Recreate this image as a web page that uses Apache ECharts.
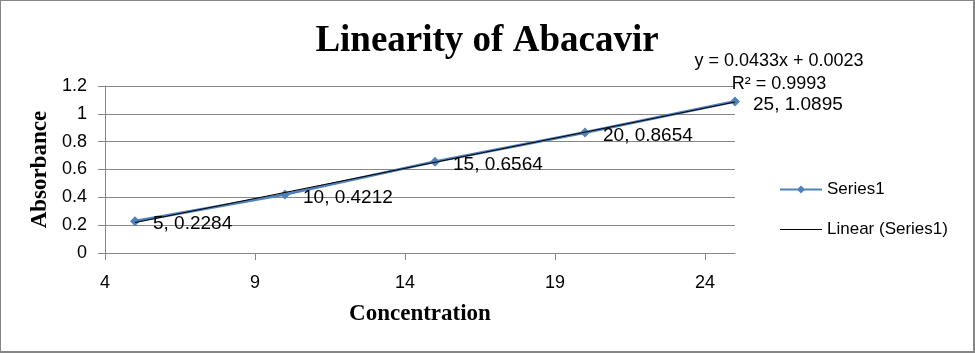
<!DOCTYPE html>
<html><head><meta charset="utf-8">
<script src="https://cdn.jsdelivr.net/npm/echarts@6/dist/echarts.min.js"></script>
<style>
html,body{margin:0;padding:0;background:#fff;}
#c{width:975px;height:353px;box-sizing:border-box;border:1px solid #868686;border-right-width:2px;border-bottom-width:2px;}
</style></head>
<body><div id="c"></div>
<script>
const concentrations = [5, 10, 15, 20, 25];
const absorbances = [0.2284, 0.4212, 0.6564, 0.8654, 1.0895];
const trendPoints = [[5, 0.2188], [25, 1.0848]];
const xTickLabels = [4, 9, 14, 19, 24];
const yTickLabels = [0, 0.2, 0.4, 0.6, 0.8, 1, 1.2];
const titleText = 'Linearity of Abacavir';
const equationText = 'y = 0.0433x + 0.0023';
const r2Text = 'R\u00B2 = 0.9993';

const chart = echarts.init(document.getElementById('c'), null, {renderer: 'canvas'});
const tickFont = {fontFamily: 'Liberation Sans', fontSize: 18, color: '#000'};
const seriesData = concentrations.map((c, i) => [c, absorbances[i]]);
chart.setOption({
  animation: false,
  title: {
    text: titleText, left: 'center', top: 17,
    textStyle: {fontFamily: 'Liberation Serif', fontWeight: 'bold', fontSize: 37, color: '#000'}
  },
  grid: {left: 104, right: 238, top: 85, bottom: 98, containLabel: false},
  legend: {
    orient: 'vertical', left: 773, top: 175, itemGap: 23, itemWidth: 42, itemHeight: 10,
    textStyle: {fontFamily: 'Liberation Sans', fontSize: 17, color: '#000'},
    data: [
      {name: 'Series1'},
      {name: 'Linear (Series1)', icon: 'path://M0,0 L42,0 L42,1 L0,1 Z', itemStyle: {color: '#000'}}
    ]
  },
  xAxis: {
    type: 'value', min: 4, max: 25,
    name: 'Concentration', nameLocation: 'middle', nameGap: 50,
    nameTextStyle: {fontFamily: 'Liberation Serif', fontWeight: 'bold', fontSize: 23, color: '#000'},
    axisLine: {lineStyle: {color: '#868686'}},
    axisTick: {show: true, length: 7, customValues: xTickLabels, lineStyle: {color: '#868686'}},
    axisLabel: Object.assign({customValues: xTickLabels, margin: 21}, tickFont),
    splitLine: {show: false}
  },
  yAxis: {
    type: 'value', min: 0, max: 1.2, interval: 0.2,
    name: 'Absorbance', nameLocation: 'middle', nameGap: 52, nameRotate: 90,
    nameTextStyle: {fontFamily: 'Liberation Serif', fontWeight: 'bold', fontSize: 23, color: '#000'},
    axisLine: {show: true, lineStyle: {color: '#868686'}},
    axisTick: {show: true, length: 7, lineStyle: {color: '#868686'}},
    axisLabel: Object.assign({margin: 18, formatter: v => String(+v.toFixed(1))}, tickFont),
    splitLine: {lineStyle: {color: '#868686', width: 1}}
  },
  series: [
    {
      name: 'Series1', type: 'line', data: seriesData,
      symbol: 'diamond', symbolSize: 10,
      lineStyle: {color: '#4f81bd', width: 3},
      itemStyle: {color: '#4f81bd'},
      label: {
        show: true, position: 'right', distance: 13, offset: [0, 3],
        fontFamily: 'Liberation Sans', fontSize: 19, color: '#000',
        formatter: p => p.value[0] + ', ' + p.value[1]
      },
      z: 2
    },
    {
      name: 'Linear (Series1)', type: 'line', data: trendPoints,
      symbol: 'none', lineStyle: {color: '#000', width: 1}, itemStyle: {color: '#000'},
      z: 3,
      markPoint: {
        symbol: 'circle', symbolSize: 1,
        itemStyle: {color: 'rgba(0,0,0,0)'},
        data: [{coord: trendPoints[1], value: 0}],
        label: {
          show: true, position: 'inside', formatter: equationText + '\n' + r2Text, align: 'center',
          fontFamily: 'Liberation Sans', fontSize: 18, color: '#000', lineHeight: 23,
          offset: [44, -30]
        }
      }
    }
  ]
});
</script></body></html>
